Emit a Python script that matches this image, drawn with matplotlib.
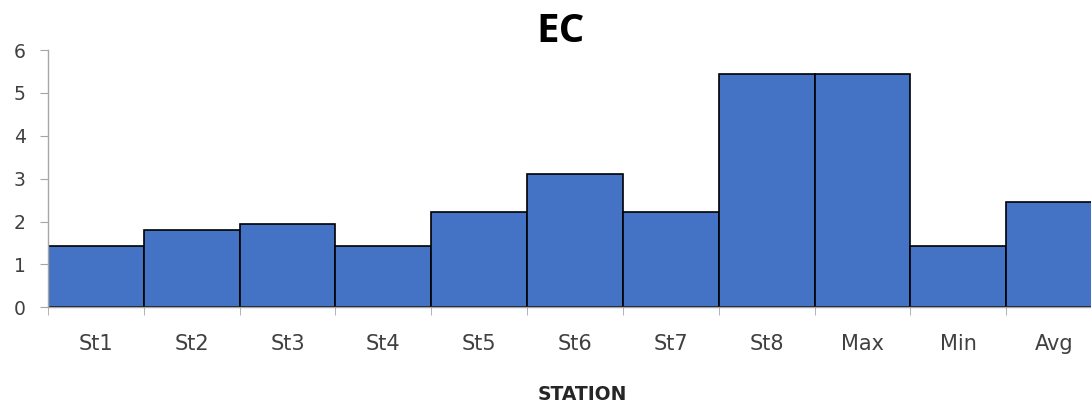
import numpy as np
import matplotlib as mpl
mpl.use('Agg')
import matplotlib.pyplot as plt

mpl.rcParams['font.family'] = ['DejaVu Sans']

stations = ['St1', 'St2', 'St3', 'St4', 'St5', 'St6', 'St7', 'St8', 'Max', 'Min', 'Avg']
ec_values = [1.43, 1.80, 1.95, 1.43, 2.23, 3.11, 2.23, 5.44, 5.44, 1.44, 2.45]

W, H = 1091, 408
fig = plt.figure(figsize=(W / 100, H / 100), dpi=100)
# plot area runs past the right edge, so the last bar is cut off
left, right, bottom, top = 48, 1102, 307.3, 50
ax = fig.add_axes([left / W, 1 - bottom / H, (right - left) / W, (bottom - top) / H])

x = np.arange(len(stations))
ax.bar(x, ec_values, width=1.0, color='#4472C4', edgecolor='black', linewidth=1.2)

ax.set_xlim(-0.5, len(stations) - 0.5)
ax.set_ylim(0, 6)
ax.set_yticks(range(0, 7))
ax.set_xticks(x)
ax.set_xticklabels(stations)
ax.set_xticks(np.arange(-0.5, len(stations), 1.0), minor=True)
ax.tick_params(axis='x', which='major', length=0, pad=19, labelsize=15, colors='#404040')
ax.tick_params(axis='x', which='minor', length=6, color='#A6A6A6', direction='out')
ax.tick_params(axis='y', length=6, color='#A6A6A6', labelsize=13.5, colors='#404040', pad=10)

for side in ['top', 'right']:
    ax.spines[side].set_visible(False)
for side in ['left', 'bottom']:
    ax.spines[side].set_color('#A6A6A6')
    ax.spines[side].set_linewidth(1.0)

fig.text(561 / W, 1 - 31 / H, 'EC', ha='center', va='center', fontsize=29,
         fontweight='bold', color='black', family='Open Sans')
fig.text(582 / W, 1 - 395 / H, 'STATION', ha='center', va='center', fontsize=13.5,
         fontweight='bold', color='#262626')

fig.savefig('out.png', dpi=100)
